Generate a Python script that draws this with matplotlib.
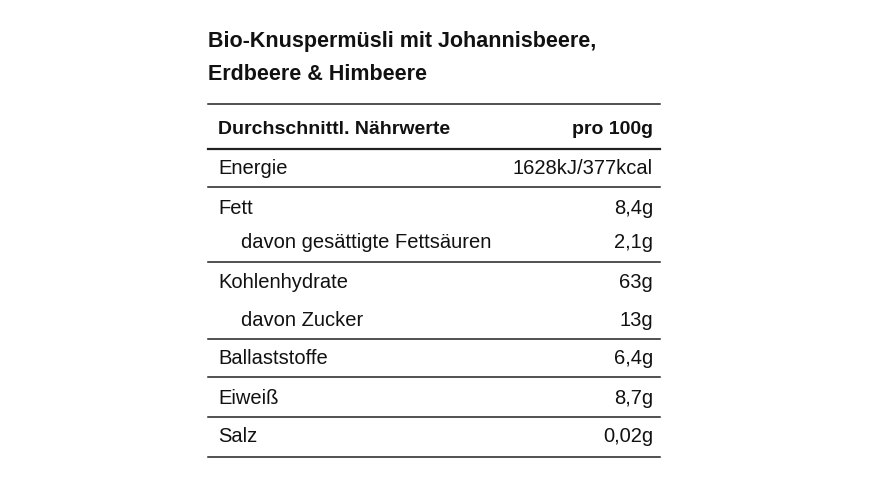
import matplotlib
matplotlib.use("Agg")
import matplotlib.pyplot as plt

title_lines = ["Bio-Knuspermüsli mit Johannisbeere,", "Erdbeere & Himbeere"]
header = ["Durchschnittl. Nährwerte", "pro 100g"]
labels = ["Energie", "Fett", "davon gesättigte Fettsäuren", "Kohlenhydrate",
          "davon Zucker", "Ballaststoffe", "Eiweiß", "Salz"]
values = ["1628kJ/377kcal", "8,4g", "2,1g", "63g", "13g", "6,4g", "8,7g", "0,02g"]
indented = [False, False, True, False, True, False, False, False]
row_y = [168, 208, 243, 283, 320, 358, 398, 437]
group_lines = [105, 150, 188, 263, 340, 378, 418, 458]

fam = ["Liberation Sans", "DejaVu Sans"]
fig = plt.figure(figsize=(8.7, 4.89), dpi=100)
ax = fig.add_axes([0, 0, 1, 1])
ax.set_xlim(0, 870); ax.set_ylim(489, 0); ax.axis("off")
L, R = 208, 660
ax.text(L, 42, title_lines[0], fontsize=15.5, fontweight="bold", family=fam, va="center", color="#111")
ax.text(L, 75, title_lines[1], fontsize=15.5, fontweight="bold", family=fam, va="center", color="#111")
ax.text(L + 10, 129, header[0], fontsize=14, fontweight="bold", family=fam, va="center", color="#111")
ax.text(R - 7, 129, header[1], fontsize=14, fontweight="bold", family=fam, va="center", ha="right", color="#111")
for lab, val, ind, y in zip(labels, values, indented, row_y):
    ax.text(L + (33 if ind else 10), y, lab, fontsize=14.5, family=fam, va="center", color="#111")
    ax.text(R - 7, y, val, fontsize=14.5, family=fam, va="center", ha="right", color="#111")
for y in group_lines:
    ax.plot([L, R], [y, y], color="#222", lw=1.6 if y == 150 else 1.1)
fig.savefig("out.png", dpi=100, facecolor="white")
